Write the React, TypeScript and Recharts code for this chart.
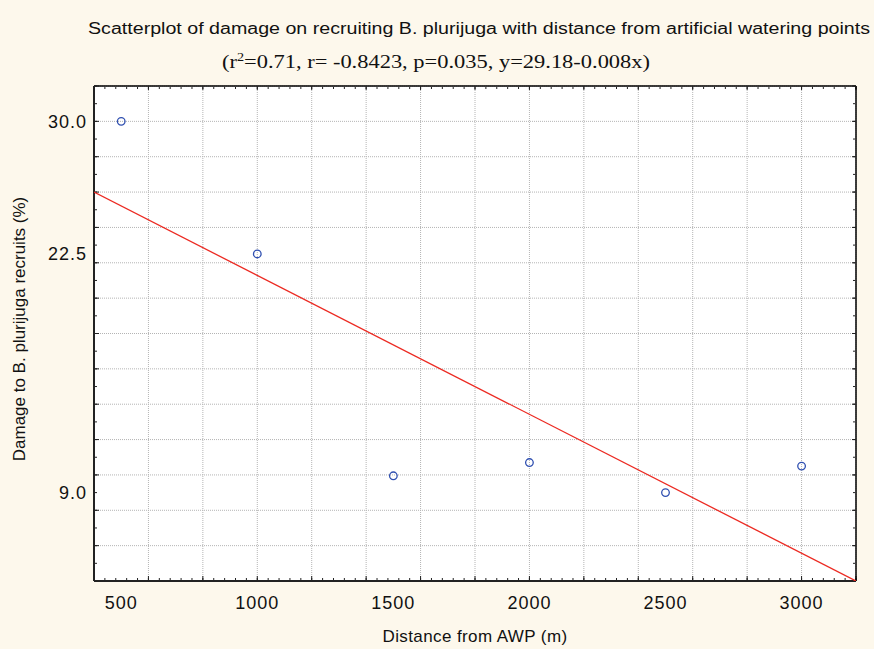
import { ScatterChart, Scatter, XAxis, YAxis, CartesianGrid } from 'recharts';

// distance from artificial watering point (m) and damage to recruits (%)
const distance = [500, 1000, 1500, 2000, 2500, 3000];
const damage = [30.0, 22.5, 9.95, 10.7, 9.0, 10.5];

// fitted line, read at the two edges of the plot
const fitX = [400, 3200];
const fitY = [26.0, 4.0];

const xTickLabels = [500, 1000, 1500, 2000, 2500, 3000];
const yTickLabels = [9.0, 22.5, 30.0];
const xGridTicks = [400, 600, 800, 1000, 1200, 1400, 1600, 1800, 2000, 2200, 2400, 2600, 2800, 3000, 3200];
const yGridTicks = [4, 6, 8, 10, 12, 14, 16, 18, 20, 22, 24, 26, 28, 30, 32];

const X_DOMAIN: [number, number] = [400, 3200];
const Y_DOMAIN: [number, number] = [4, 32];

function steps(from: number, to: number, step: number) {
  const out: number[] = [];
  for (let v = from; v <= to + 1e-9; v += step) out.push(v);
  return out;
}

const xMinorTicks = steps(400, 3200, 40);
const yMinorTicks = steps(4, 32, 1);

const points = distance.map((x, i) => ({ x, y: damage[i] }));
const fit = fitX.map((x, i) => ({ x, y: fitY[i] }));

const SANS = '"Liberation Sans", Arial, sans-serif';
const SERIF = '"Liberation Serif", "Times New Roman", serif';
const BG = '#fdf8ec';
const INK = '#111';

function OpenCircle(props: any) {
  const { cx, cy } = props;
  if (cx == null || cy == null) return <g />;
  return <circle cx={cx} cy={cy} r={3.8} fill="none" stroke="#2f4fb0" strokeWidth={1.3} />;
}

const Nothing = () => <g />;

export default function App() {
  const tickFont = { fill: INK, fontSize: 18, fontFamily: SANS, letterSpacing: 1 };
  const frame = { stroke: '#222', strokeWidth: 2 };
  const thinFrame = { stroke: '#000', strokeWidth: 1.5 };
  const markLine = { stroke: '#222', strokeWidth: 1 };

  return (
    <div style={{ position: 'absolute', left: 0, top: 0, width: 874, height: 649, background: BG }}>
      <ScatterChart width={874} height={649} margin={{ top: 86, right: 18, bottom: 0, left: 0 }}>
        <CartesianGrid
          xAxisId="xMajor"
          yAxisId="yMajor"
          fill="#ffffff"
          stroke="#b4b4b4"
          strokeDasharray="1 1"
        />

        {/* labelled axes */}
        <XAxis
          xAxisId="x"
          type="number"
          dataKey="x"
          domain={X_DOMAIN}
          allowDataOverflow
          ticks={xTickLabels}
          interval={0}
          height={68}
          tickSize={0}
          tickMargin={15}
          axisLine={false}
          tickLine={false}
          tick={tickFont}
        />
        <YAxis
          yAxisId="y"
          type="number"
          dataKey="y"
          domain={Y_DOMAIN}
          allowDataOverflow
          ticks={yTickLabels}
          interval={0}
          width={94}
          tickSize={0}
          tickMargin={7}
          axisLine={false}
          tickLine={false}
          tick={tickFont}
          tickFormatter={(v: number) => v.toFixed(1)}
        />

        {/* inward tick marks and the frame */}
        <XAxis xAxisId="xMajor" type="number" dataKey="x" domain={X_DOMAIN} allowDataOverflow ticks={xGridTicks} interval={0}
          orientation="bottom" mirror height={1} tick={Nothing} tickSize={5} tickLine={markLine} axisLine={frame} />
        <XAxis xAxisId="xMinor" type="number" dataKey="x" domain={X_DOMAIN} allowDataOverflow ticks={xMinorTicks} interval={0}
          orientation="bottom" mirror height={1} tick={Nothing} tickSize={2} tickLine={markLine} axisLine={false} />
        <XAxis xAxisId="xTopMajor" type="number" dataKey="x" domain={X_DOMAIN} allowDataOverflow ticks={xGridTicks} interval={0}
          orientation="top" mirror height={1} tick={Nothing} tickSize={4} tickLine={markLine} axisLine={thinFrame} />
        <XAxis xAxisId="xTopMinor" type="number" dataKey="x" domain={X_DOMAIN} allowDataOverflow ticks={xMinorTicks} interval={0}
          orientation="top" mirror height={1} tick={Nothing} tickSize={2} tickLine={markLine} axisLine={false} />

        <YAxis yAxisId="yMajor" type="number" dataKey="y" domain={Y_DOMAIN} allowDataOverflow ticks={yGridTicks} interval={0}
          orientation="left" mirror width={1} tick={Nothing} tickSize={5} tickLine={markLine} axisLine={frame} />
        <YAxis yAxisId="yMinor" type="number" dataKey="y" domain={Y_DOMAIN} allowDataOverflow ticks={yMinorTicks} interval={0}
          orientation="left" mirror width={1} tick={Nothing} tickSize={2} tickLine={markLine} axisLine={false} />
        <YAxis yAxisId="yRightMajor" type="number" dataKey="y" domain={Y_DOMAIN} allowDataOverflow ticks={yGridTicks} interval={0}
          orientation="right" mirror width={1} tick={Nothing} tickSize={4} tickLine={markLine} axisLine={thinFrame} />
        <YAxis yAxisId="yRightMinor" type="number" dataKey="y" domain={Y_DOMAIN} allowDataOverflow ticks={yMinorTicks} interval={0}
          orientation="right" mirror width={1} tick={Nothing} tickSize={2} tickLine={markLine} axisLine={false} />

        {/* invisible series so every tick axis has data bound to it */}
        <Scatter xAxisId="xMajor" yAxisId="yMajor" data={points} shape={Nothing} legendType="none" isAnimationActive={false} />
        <Scatter xAxisId="xMinor" yAxisId="yMinor" data={points} shape={Nothing} legendType="none" isAnimationActive={false} />
        <Scatter xAxisId="xTopMajor" yAxisId="yRightMajor" data={points} shape={Nothing} legendType="none" isAnimationActive={false} />
        <Scatter xAxisId="xTopMinor" yAxisId="yRightMinor" data={points} shape={Nothing} legendType="none" isAnimationActive={false} />

        <Scatter
          xAxisId="x"
          yAxisId="y"
          data={fit}
          line={{ stroke: '#ec2a22', strokeWidth: 1.3 }}
          shape={Nothing}
          legendType="none"
          isAnimationActive={false}
        />
        <Scatter
          xAxisId="x"
          yAxisId="y"
          data={points}
          shape={OpenCircle}
          legendType="none"
          isAnimationActive={false}
        />
      </ScatterChart>

      <svg
        width={874}
        height={649}
        style={{ position: 'absolute', left: 0, top: 0, pointerEvents: 'none' }}
      >
        <text x={88} y={34} fontFamily={SANS} fontSize={16} fill={INK} textLength={782} lengthAdjust="spacingAndGlyphs">
          Scatterplot of damage on recruiting B. plurijuga with distance from artificial watering points
        </text>
        <text x={222} y={68} fontFamily={SERIF} fontSize={19} fill={INK} textLength={428} lengthAdjust="spacingAndGlyphs">
          (r<tspan dy={-7} fontSize={12}>2</tspan>
          <tspan dy={7}>=0.71, r= -0.8423, p=0.035, y=29.18-0.008x)</tspan>
        </text>
        <text x={475} y={642} textAnchor="middle" fontFamily={SANS} fontSize={17} fill={INK} letterSpacing={0.4}>
          Distance from AWP (m)
        </text>
        <text
          transform="translate(25 329) rotate(-90)"
          textAnchor="middle"
          fontFamily={SANS}
          fontSize={17}
          fill={INK}
        >
          Damage to B. plurijuga recruits (%)
        </text>
      </svg>
    </div>
  );
}
